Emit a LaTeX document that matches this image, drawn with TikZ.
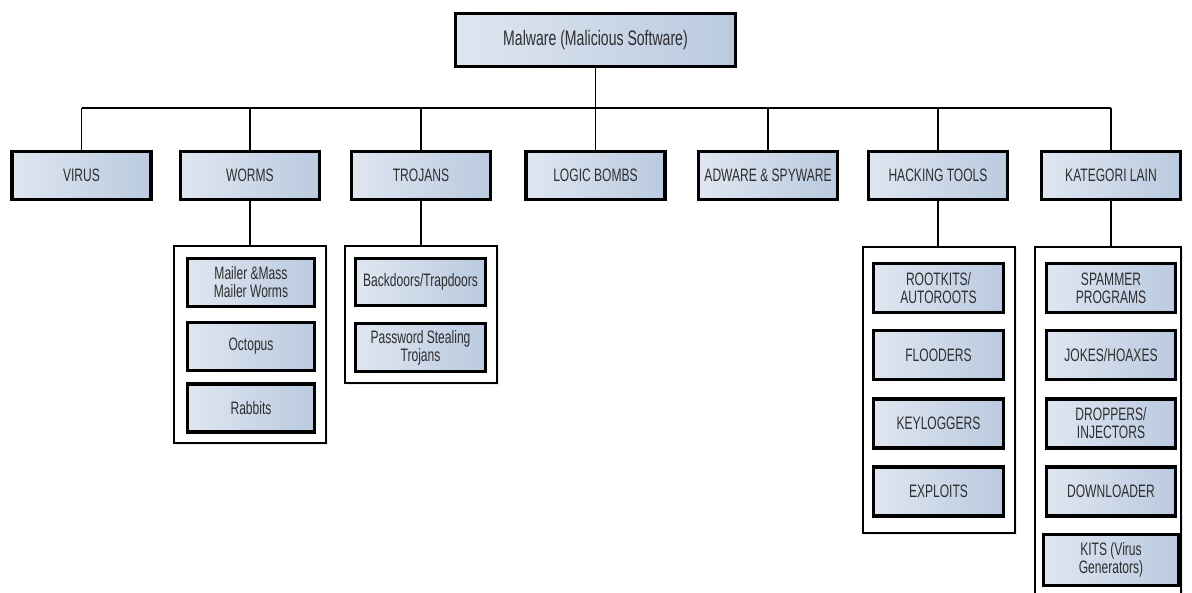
\documentclass[tikz,border=0pt]{standalone}
\usepackage{fontspec}
\setmainfont{Liberation Sans}[FakeStretch=0.67]
\usetikzlibrary{shadows}
\definecolor{boxleft}{HTML}{DFE6F1}
\definecolor{boxright}{HTML}{BACADF}
\definecolor{txt}{HTML}{2E2E2E}
\tikzset{
  catbox/.style={draw=black, line width=3.2pt, left color=boxleft, right color=boxright,
    align=center, inner sep=0pt, text=txt, font=\fontsize{18}{18}\selectfont,
    drop shadow={opacity=0.25, shadow xshift=1.5pt, shadow yshift=-1.5pt}},
  groupbox/.style={draw=black, line width=1.6pt, fill=white, inner sep=0pt,
    drop shadow={opacity=0.15, shadow xshift=1.5pt, shadow yshift=-1.5pt}},
  link/.style={draw=black, line width=1.6pt}
}
\begin{document}
\begin{tikzpicture}[x=1pt, y=-1pt]
\useasboundingbox (0,0) rectangle (1192,592);

% root
\node[catbox, minimum width=280pt, minimum height=53pt, font=\fontsize{21}{21}\selectfont]
  (root) at (595.5,40) {Malware (Malicious Software)};

% main categories
\foreach \name/\x/\label in {virus/81.5/VIRUS, worms/250/WORMS, trojans/421/TROJANS,
    logic/595.5/LOGIC BOMBS, adware/768/ADWARE \& SPYWARE, hacking/938/HACKING TOOLS,
    kategori/1111/KATEGORI LAIN}
  \node[catbox, minimum width=139pt, minimum height=48pt] (\name) at (\x,175.5) {\label};

% bus from root to categories
\coordinate (busL) at (81.5,108);
\coordinate (busR) at (1111,108);
\draw[link] (busL) -- (busR);
\draw[link] (root.south) -- (root.south |- busL);
\foreach \name in {virus, worms, trojans, logic, adware, hacking, kategori}
  \draw[link] (\name.north) -- (\name.north |- busL);

% group frames
\node[groupbox, minimum width=152pt, minimum height=197pt] (wormsG) at (250,344.5) {};
\node[groupbox, minimum width=152pt, minimum height=137pt] (trojansG) at (421,314.5) {};
\node[groupbox, minimum width=152pt, minimum height=286pt] (hackingG) at (939,390) {};
\node[groupbox, minimum width=146pt, minimum height=373pt] (kategoriG) at (1108,433.5) {};

\draw[link] (worms.south) -- (worms.south |- wormsG.north);
\draw[link] (trojans.south) -- (trojans.south |- trojansG.north);
\draw[link] (hacking.south) -- (hacking.south |- hackingG.north);
\draw[link] (kategori.south) -- (kategori.south |- kategoriG.north);

% worms
\node[catbox, minimum width=127pt, minimum height=48pt] (mailer) at (251,282.5) {Mailer \&Mass\\Mailer Worms};
\node[catbox, minimum width=127pt, minimum height=48pt] (octopus) at (251,346.5) {Octopus};
\node[catbox, minimum width=127pt, minimum height=48pt] (rabbits) at (251,408) {Rabbits};

% trojans
\node[catbox, minimum width=130pt, minimum height=47pt] (backdoors) at (420.5,282) {Backdoors/Trapdoors};
\node[catbox, minimum width=130pt, minimum height=48pt] (password) at (420.5,347.5) {Password Stealing\\Trojans};

% hacking tools
\node[catbox, minimum width=130pt, minimum height=49pt] (rootkits) at (938.5,288) {ROOTKITS/\\AUTOROOTS};
\node[catbox, minimum width=130pt, minimum height=49pt] (flooders) at (938.5,355) {FLOODERS};
\node[catbox, minimum width=130pt, minimum height=49pt] (keyloggers) at (938.5,423.5) {KEYLOGGERS};
\node[catbox, minimum width=130pt, minimum height=49pt] (exploits) at (938.5,491.5) {EXPLOITS};

% other categories
\node[catbox, minimum width=129pt, minimum height=49pt] (spammer) at (1111,288) {SPAMMER\\PROGRAMS};
\node[catbox, minimum width=129pt, minimum height=49pt] (jokes) at (1111,355) {JOKES/HOAXES};
\node[catbox, minimum width=129pt, minimum height=49pt] (droppers) at (1111,423.5) {DROPPERS/\\INJECTORS};
\node[catbox, minimum width=129pt, minimum height=49pt] (downloader) at (1111,491.5) {DOWNLOADER};
\node[catbox, minimum width=135pt, minimum height=51pt] (kits) at (1111,560) {KITS (Virus\\Generators)};
\end{tikzpicture}
\end{document}
